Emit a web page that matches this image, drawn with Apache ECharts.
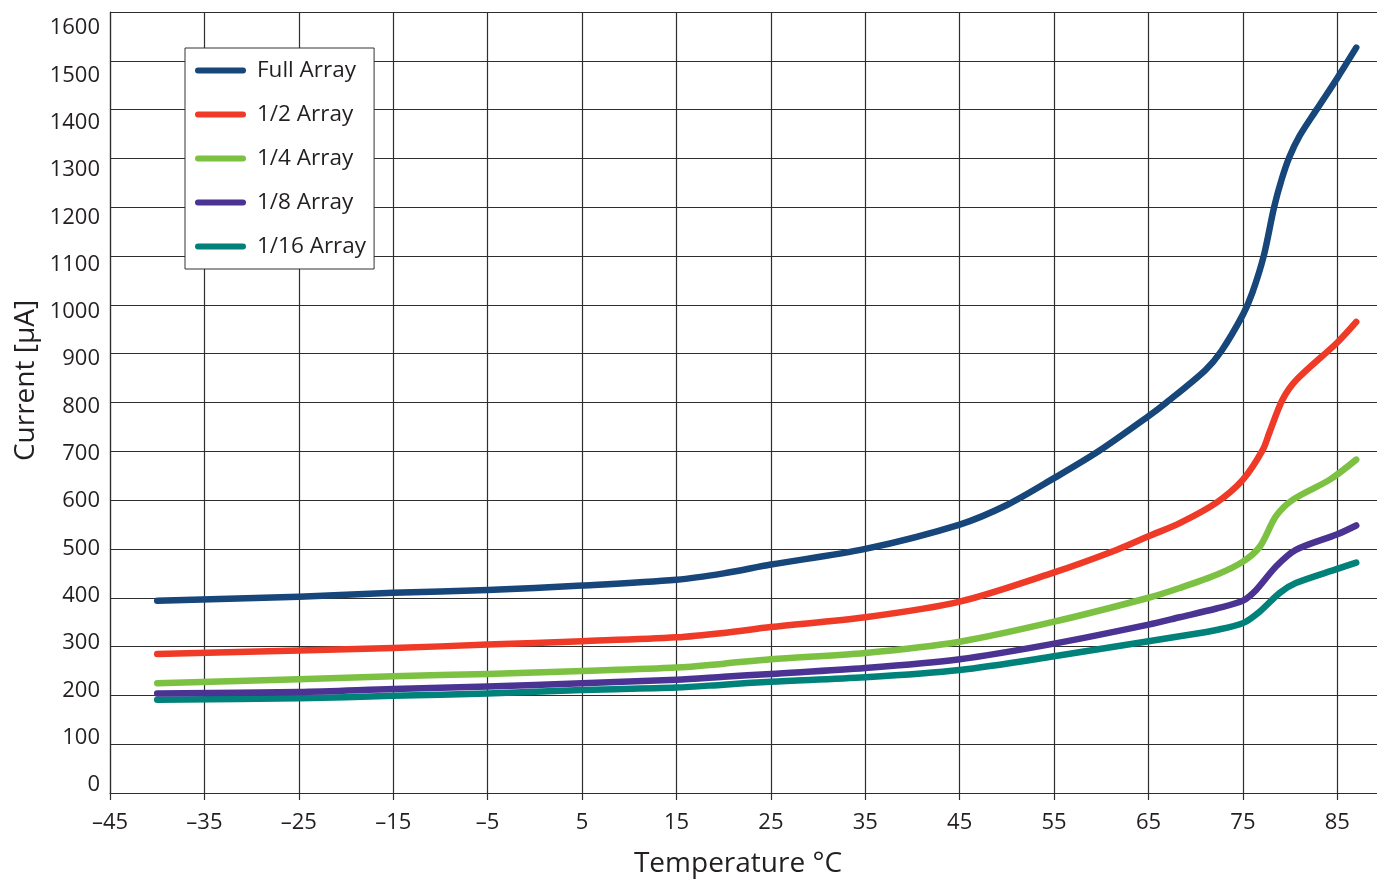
<!DOCTYPE html>
<html>
<head>
<meta charset="utf-8">
<script src="https://cdn.jsdelivr.net/npm/echarts@6/dist/echarts.min.js"></script>
<style>
html,body{margin:0;padding:0;background:#fff;}
#chart{width:1377px;height:880px;}
</style>
</head>
<body>
<div id="chart"></div>
<script>
// ---- data ----
const seriesNames = ['Full Array', '1/2 Array', '1/4 Array', '1/8 Array', '1/16 Array'];

const fullT = [-40, -25, -15, -5, 5, 15, 20, 25, 35, 45, 50, 55, 59.7, 65, 66.9, 71, 72.7, 75, 76, 77.2, 78.3, 79.1, 79.9, 81, 82.8, 85, 87];
const fullI = [394, 402, 410, 416, 425, 437, 450, 468, 500, 550, 590, 645, 700, 772, 800, 866, 905, 980, 1025, 1100, 1200, 1257, 1302, 1346, 1400, 1465, 1527];

const halfT = [-40, -25, -15, -5, 5, 15, 20, 25, 35, 45, 55, 61.6, 65, 68.3, 72.2, 75, 77.1, 77.8, 79.2, 80.7, 85, 87];
const halfI = [285, 292, 297, 304, 311, 319, 328, 340, 360, 392, 452, 498, 526, 553, 595, 642, 703, 738, 806, 847, 923, 965];

const quarterT = [-40, -25, -15, -5, 5, 15, 20, 25, 35, 45, 55, 65, 68.3, 72.2, 75, 76.8, 78.5, 80.3, 84.2, 87];
const quarterI = [225, 233, 239, 244, 250, 257, 265, 274, 287, 310, 351, 400, 420, 447, 474, 505, 567, 601, 642, 683];

const eighthT = [-40, -25, -15, -5, 5, 15, 20, 25, 35, 45, 55, 65, 68.3, 72.2, 75, 76.4, 78.5, 80.6, 85, 87];
const eighthI = [204, 207, 213, 218, 225, 232, 238, 244, 256, 274, 306, 345, 360, 378, 394, 416, 464, 498, 530, 548];

const sixteenthT = [-40, -25, -15, -5, 5, 15, 20, 25, 35, 45, 55, 65, 68.3, 72.2, 75, 76.8, 78.9, 80.6, 85, 87];
const sixteenthI = [191, 194, 199, 204, 211, 216, 222, 228, 237, 252, 280, 311, 321, 334, 348, 372, 410, 430, 459, 472];

const xTicks = [-45, -35, -25, -15, -5, 5, 15, 25, 35, 45, 55, 65, 75, 85];
const yTicks = [0, 100, 200, 300, 400, 500, 600, 700, 800, 900, 1000, 1100, 1200, 1300, 1400, 1500, 1600];

const colors = ['#17467a', '#ef3a27', '#7cc142', '#4b3393', '#00827a'];

// ---- chart ----
const pairs = (xs, ys) => xs.map((x, i) => [x, ys[i]]);
const allData = [
  pairs(fullT, fullI),
  pairs(halfT, halfI),
  pairs(quarterT, quarterI),
  pairs(eighthT, eighthI),
  pairs(sixteenthT, sixteenthI)
];

const FONT = '"Open Sans", "Noto Sans", sans-serif';
const TXT = '#231f20';
const GRIDC = '#2e2e2e';

const chart = echarts.init(document.getElementById('chart'), null, {renderer: 'canvas'});
const legendIcon = 'path://M3,0 L48,0 A3,3 0 0 1 48,6 L3,6 A3,3 0 0 1 3,0 Z';

chart.setOption({
  backgroundColor: '#ffffff',
  animation: false,
  color: colors,
  textStyle: {fontFamily: FONT, color: TXT},
  grid: {left: 110, top: 12, right: 0, bottom: 87, containLabel: false, outerBoundsMode: 'none'},
  legend: {
    orient: 'vertical',
    left: 185,
    top: 48,
    padding: [11, 8, 11, 10],
    itemGap: 21,
    itemWidth: 51,
    itemHeight: 6,
    icon: legendIcon,
    backgroundColor: '#ffffff',
    borderColor: '#333',
    borderWidth: 1,
    textStyle: {fontFamily: FONT, fontSize: 22.5, color: TXT, lineHeight: 23, padding: [0, 0, 0, 6]},
    data: seriesNames
  },
  xAxis: {
    type: 'value',
    min: -45,
    max: 89.2,
    interval: 10,
    name: 'Temperature °C',
    nameLocation: 'middle',
    nameGap: 57,
    nameTextStyle: {fontFamily: FONT, fontSize: 28, color: TXT, padding: [0, 11, 0, 0]},
    axisLine: {show: true, onZero: false, lineStyle: {color: GRIDC, width: 1.2}},
    axisTick: {show: true, length: 7, inside: false, lineStyle: {color: GRIDC, width: 1.2}, customValues: xTicks},
    axisLabel: {
      show: true,
      margin: 19,
      fontFamily: FONT,
      fontSize: 22,
      color: TXT,
      customValues: xTicks,
      formatter: v => (v < 0 ? '\u2013' + Math.abs(v) : String(v))
    },
    splitLine: {show: true, lineStyle: {color: GRIDC, width: 1.2}}
  },
  yAxis: [
    {
      type: 'value',
      min: 0,
      max: 1600,
      interval: 100,
      name: 'Current [µA]',
      nameLocation: 'middle',
      nameGap: 70,
      nameRotate: 90,
      nameTextStyle: {fontFamily: FONT, fontSize: 28, color: TXT, padding: [0, 0, 0, 44]},
      axisLine: {show: true, onZero: false, lineStyle: {color: GRIDC, width: 1.2}},
      axisTick: {show: false},
      axisLabel: {show: false},
      splitLine: {show: true, lineStyle: {color: GRIDC, width: 1.2}}
    },
    {
      type: 'value',
      position: 'left',
      min: -17,
      max: 1634,
      axisLine: {show: false, onZero: false},
      axisTick: {show: false},
      splitLine: {show: false},
      axisLabel: {
        show: true,
        margin: 10,
        fontFamily: FONT,
        fontSize: 22,
        color: TXT,
        customValues: yTicks,
        formatter: v => String(v)
      }
    }
  ],
  series: seriesNames.map((name, i) => ({
    name: name,
    type: 'line',
    yAxisIndex: 0,
    data: allData[i],
    smooth: 0.3,
    symbol: 'none',
    showSymbol: false,
    lineStyle: {width: 6.5, color: colors[i], cap: 'round', join: 'round'},
    itemStyle: {color: colors[i]},
    z: 10 - i
  }))
});
</script>
</body>
</html>
